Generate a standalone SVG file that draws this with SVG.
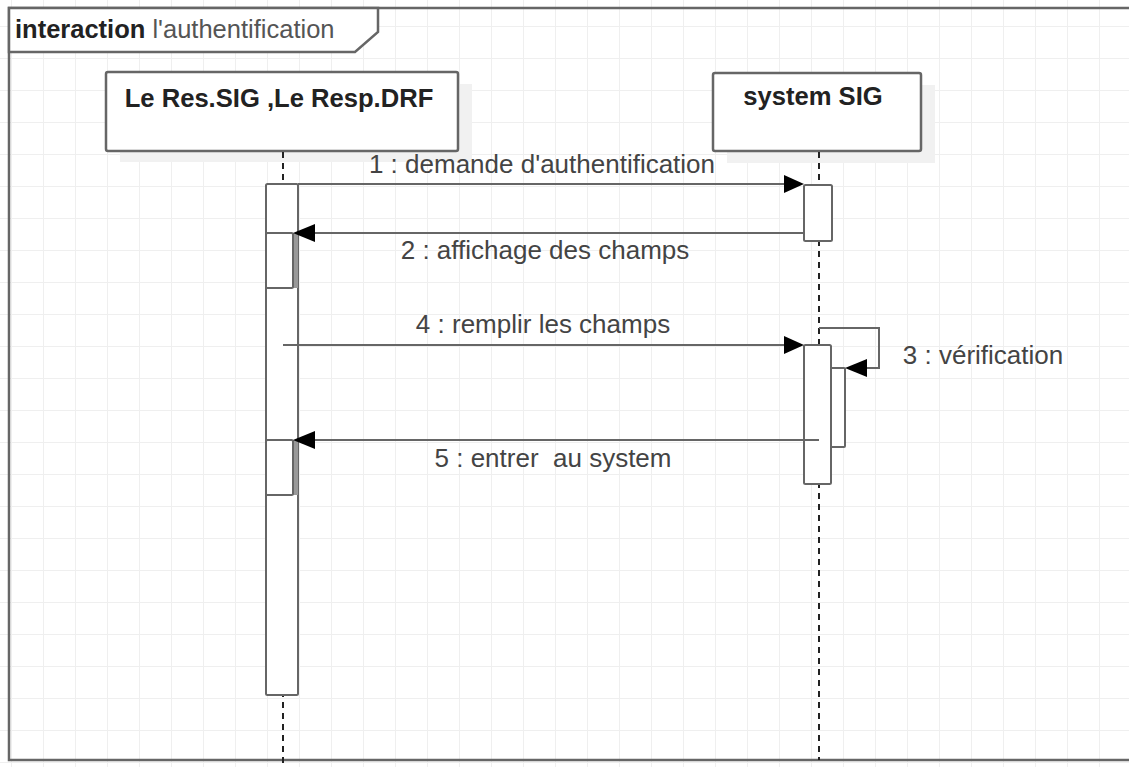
<svg xmlns="http://www.w3.org/2000/svg" width="1129" height="767" viewBox="0 0 1129 767">
<style>
.ln{stroke:#666;stroke-width:2;fill:none}
.act{fill:#fff;stroke:#666;stroke-width:2}
.box{fill:#fff;stroke:#666;stroke-width:2.5}
.shadow{fill:#f1f1f1}
.life{stroke:#222;stroke-width:2;stroke-dasharray:6 5;fill:none}
.lbl{font-family:"Liberation Sans",Arial,sans-serif;font-size:26px;fill:#444;text-anchor:middle}
.name{font-family:"Liberation Sans",Arial,sans-serif;font-size:25.6px;font-weight:bold;fill:#222;text-anchor:middle}
.head{fill:#000}
</style>
<defs>
<pattern id="grid" patternUnits="userSpaceOnUse" x="11" y="26" width="32" height="32">
<path d="M0 0H32M0 0V32" stroke="#efefef" stroke-width="2" fill="none"/>
</pattern>
</defs>
<rect x="0" y="0" width="1129" height="767" fill="#fff"/>
<rect x="0" y="0" width="1129" height="767" fill="url(#grid)"/>
<g id="frame">
<rect x="9" y="8" width="1130" height="752" fill="none" stroke="#666" stroke-width="2.5"/>
<path d="M9 8H378V32L355 52H9Z" fill="#fff" stroke="#666" stroke-width="2.5"/>
<text x="15" y="38" font-family="'Liberation Sans',Arial,sans-serif" font-size="25.5"><tspan font-weight="bold" fill="#222">interaction</tspan><tspan fill="#555"> l'authentification</tspan></text>
</g>
<g id="lifeline-user">
<rect class="shadow" x="120" y="84" width="352" height="78"/>
<rect class="box" x="106" y="72" width="352" height="79" rx="2"/>
<text class="name" x="279" y="107">Le Res.SIG ,Le Resp.DRF</text>
<line class="life" x1="283" y1="152" x2="283" y2="767"/>
</g>
<g id="lifeline-system">
<rect class="shadow" x="727" y="85" width="208" height="78"/>
<rect class="box" x="713" y="73" width="208" height="78" rx="2"/>
<text class="name" x="813" y="105">system SIG</text>
<line class="life" x1="819" y1="152" x2="819" y2="760"/>
</g>
<g id="activations">
<rect class="act" x="266" y="184" width="32" height="511" rx="1.5"/>
<rect x="293" y="233" width="5" height="55" fill="#999"/>
<rect class="act" x="266" y="233" width="27" height="55" rx="1.5"/>
<rect x="293" y="440" width="5" height="55" fill="#999"/>
<rect class="act" x="266" y="440" width="27" height="55" rx="1.5"/>
<rect class="act" x="804" y="185" width="28" height="56" rx="1.5"/>
<rect class="act" x="804" y="345" width="27" height="139" rx="1.5"/>
<rect class="act" x="831" y="368" width="14" height="79" rx="1"/>
</g>
<g id="connectors">
<line class="ln" x1="298" y1="184" x2="786" y2="184"/>
<path class="head" d="M804 184L784 175V193Z"/>
<line class="ln" x1="804" y1="233" x2="312" y2="233"/>
<path class="head" d="M293 233L315 224V242Z"/>
<path class="ln" d="M819 328H879V368H862"/>
<path class="head" d="M845 368L867 359V377Z"/>
<line class="ln" x1="283" y1="345" x2="786" y2="345"/>
<path class="head" d="M804 345L784 336V354Z"/>
<line class="ln" x1="819" y1="440" x2="312" y2="440"/>
<path class="head" d="M293 440L315 431V449Z"/>
</g>
<g id="labels">
<text class="lbl" x="542" y="173">1 : demande d'authentification</text>
<text class="lbl" x="545" y="259">2 : affichage des champs</text>
<text class="lbl" x="983" y="364">3 : vérification</text>
<text class="lbl" x="543" y="333">4 : remplir les champs</text>
<text class="lbl" x="553" y="467" xml:space="preserve">5 : entrer  au system</text>
</g>
</svg>
